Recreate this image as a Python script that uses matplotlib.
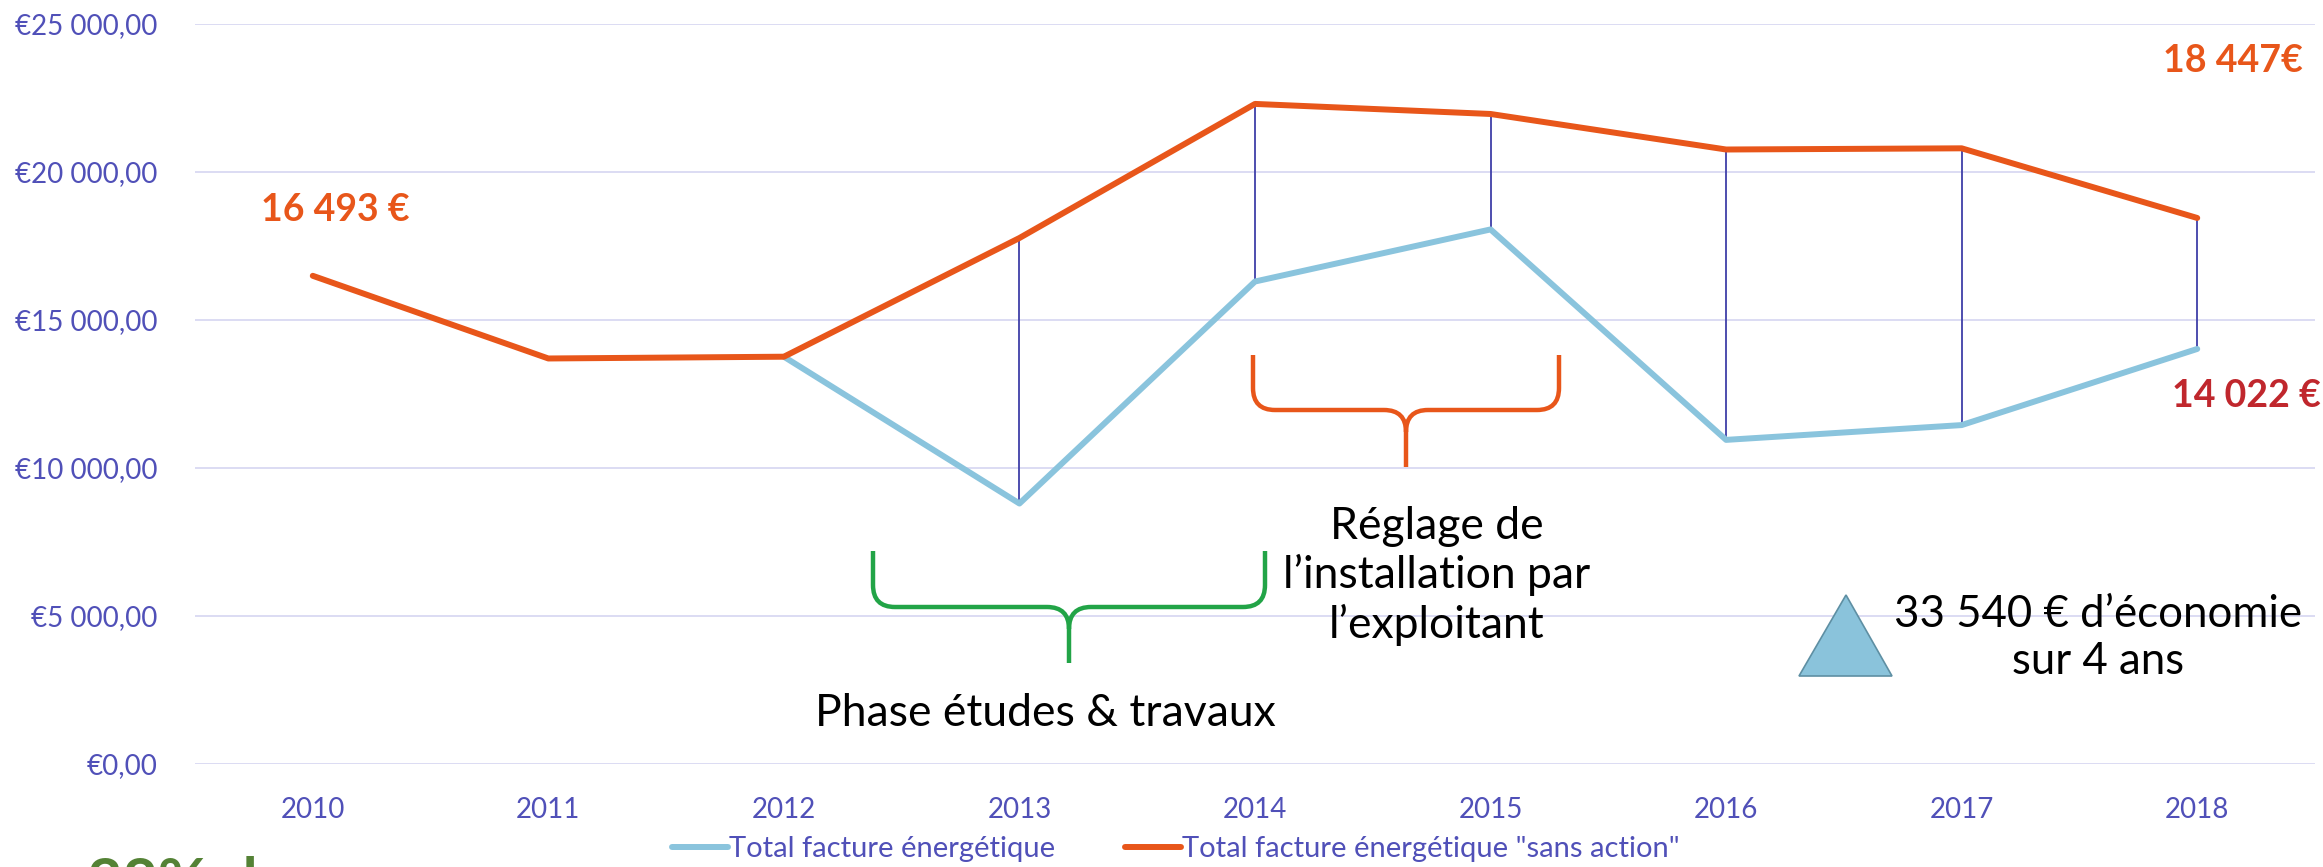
import matplotlib
matplotlib.use('Agg')
import matplotlib.pyplot as plt
from matplotlib.path import Path
from matplotlib.patches import PathPatch, Polygon
from matplotlib.transforms import Affine2D
from matplotlib.ticker import FuncFormatter

plt.rcParams['font.family'] = ['Lato', 'DejaVu Sans']

# donnees
annees = ['2010', '2011', '2012', '2013', '2014', '2015', '2016', '2017', '2018']
sans_action = [16493, 13700, 13760, 17770, 22300, 21960, 20760, 20800, 18447]
facture = [None, None, 13760, 8800, 16300, 18060, 10950, 11450, 14022]
yticks = [0, 5000, 10000, 15000, 20000, 25000]

label_debut = '16 493 €'
label_fin_sans = '18 447€'
label_fin = '14 022 €'
texte_gain = '33 540 € d’économie\nsur 4 ans'

c_blue = '#8AC4DD'
c_orange = '#E8561A'
c_red = '#C0272D'
c_axis = '#5050B8'
c_grid = '#D9D9F2'
c_drop = '#3F3FA8'
c_green_brace = '#22A447'

W, H = 2323, 867
fig = plt.figure(figsize=(W / 100, H / 100), dpi=100)
ax = fig.add_axes([195 / W, 1 - 764 / H, (2315 - 195) / W, (764 - 24) / H])

x = list(range(len(annees)))
xb = [i for i, v in zip(x, facture) if v is not None]
yb = [v for v in facture if v is not None]

# lignes haut-bas
ax.vlines(xb[1:], [sans_action[i] for i in xb[1:]], yb[1:], color=c_drop, lw=1.3, zorder=2)

l1, = ax.plot(xb, yb, color=c_blue, lw=4.3, solid_capstyle='round', solid_joinstyle='round', zorder=3)
l2, = ax.plot(x, sans_action, color=c_orange, lw=4.3, solid_capstyle='round', solid_joinstyle='round', zorder=4)

ax.set_xlim(-0.5, len(annees) - 0.5)
ax.set_ylim(0, 25000)
ax.set_yticks(yticks)
ax.yaxis.set_major_formatter(FuncFormatter(lambda v, p: '€' + f'{v:,.2f}'.replace(',', ' ').replace('.', ',')))
ax.set_xticks(x)
ax.set_xticklabels(annees)
ax.tick_params(length=0, labelsize=20, labelcolor=c_axis)
ax.tick_params(axis='y', pad=27)
ax.tick_params(axis='x', pad=24)
ax.grid(axis='y', color=c_grid, lw=1.3)
ax.set_axisbelow(True)
for s in ax.spines.values():
    s.set_visible(False)

fig.legend([l1, l2], ['Total facture énergétique', 'Total facture énergétique "sans action"'],
           loc='center', bbox_to_anchor=(1176 / W, 1 - 849 / H), ncol=2, frameon=False,
           fontsize=21, labelcolor=c_axis, handlelength=1.9, handletextpad=0.05,
           columnspacing=2.4, borderpad=0)

# repere en pixels depuis le coin haut-gauche
px = Affine2D().scale(1 / W, -1 / H).translate(0, 1) + fig.transFigure


def accolade(x0, x1, ytop, yh, ytip, color):
    xm = (x0 + x1) / 2
    r = 22
    verts = [(x0, ytop), (x0, yh - r), (x0, yh), (x0 + r, yh),
             (xm - r, yh), (xm, yh), (xm, yh + r), (xm, ytip),
             (xm, yh + r), (xm, yh), (xm + r, yh),
             (x1 - r, yh), (x1, yh), (x1, yh - r), (x1, ytop)]
    codes = [Path.MOVETO, Path.LINETO, Path.CURVE3, Path.CURVE3,
             Path.LINETO, Path.CURVE3, Path.CURVE3, Path.LINETO,
             Path.MOVETO, Path.CURVE3, Path.CURVE3,
             Path.LINETO, Path.CURVE3, Path.CURVE3, Path.LINETO]
    fig.add_artist(PathPatch(Path(verts, codes), transform=px, fill=False,
                             edgecolor=color, lw=3.2, capstyle='butt'))


accolade(1253, 1559, 355, 410, 467, c_orange)
accolade(873, 1265, 551, 607, 663, c_green_brace)

fig.text(335, 210, label_debut, transform=px, ha='center', va='center',
         fontsize=27, fontweight='bold', color=c_orange)
fig.text(2233, 61, label_fin_sans, transform=px, ha='center', va='center',
         fontsize=27, fontweight='bold', color=c_orange)
fig.text(2246, 396, label_fin, transform=px, ha='center', va='center',
         fontsize=27, fontweight='bold', color=c_red)

fig.text(1437, 576, 'Réglage de\nl’installation par\nl’exploitant', transform=px,
         ha='center', va='center', fontsize=32, linespacing=1.2, color='black')
fig.text(1045, 714, 'Phase études & travaux', transform=px, ha='center', va='center',
         fontsize=32, color='black')
fig.text(2098, 638, texte_gain, transform=px, ha='center', va='center',
         fontsize=31.5, linespacing=1.2, color='black')

fig.add_artist(Polygon([(1799, 676), (1892, 676), (1846, 595)], closed=True, transform=px,
                       facecolor='#8AC3DB', edgecolor='#5E8FA3', lw=1.2))

fig.text(87, 902, '38% de', transform=px, ha='left', va='baseline',
         fontsize=44, fontweight='bold', color='#548235')

fig.savefig('out.png', dpi=100)
